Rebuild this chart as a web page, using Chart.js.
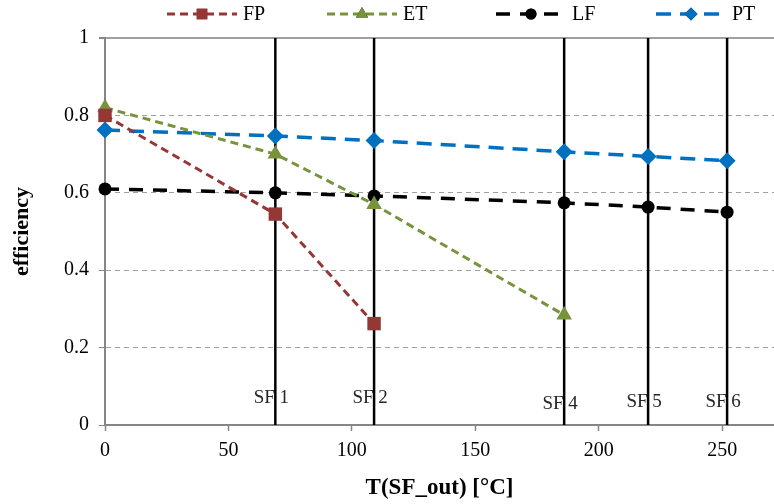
<!DOCTYPE html>
<html>
<head>
<meta charset="utf-8">
<script src="https://cdn.jsdelivr.net/npm/chart.js@4.4.1/dist/chart.umd.min.js"></script>
<style>
  html, body { margin: 0; padding: 0; background: #fff; }
  #wrap { width: 774px; height: 504px; }
</style>
</head>
<body>
<div id="wrap"><canvas id="chart" width="774" height="504"></canvas></div>
<script>
// --- data ---
const sfPositions = [69, 109, 186, 220, 252];
const sfLabels = ['SF 1', 'SF 2', 'SF 4', 'SF 5', 'SF 6'];

const fpX = [0, 69, 109];
const fpY = [0.80, 0.545, 0.262];
const etX = [0, 69, 109, 186];
const etY = [0.82, 0.70, 0.57, 0.284];
const lfX = [0, 69, 109, 186, 220, 252];
const lfY = [0.61, 0.60, 0.592, 0.574, 0.563, 0.55];
const ptX = [0, 69, 109, 186, 220, 252];
const ptY = [0.762, 0.747, 0.735, 0.706, 0.694, 0.683];

const xTicks = [0, 50, 100, 150, 200, 250];
const yTicks = [0, 0.2, 0.4, 0.6, 0.8, 1];

const FONT = '"Liberation Serif", "DejaVu Serif", serif';
const toPoints = (xs, ys) => xs.map((x, i) => ({ x: x, y: ys[i] }));

// series styling (radius = marker on plot, legR = marker in legend)
const series = [
  { label: 'FP', xs: fpX, ys: fpY, color: '#953735', dash: [8, 5], width: 3, point: 'rect', radius: 9.5, legR: 7.5 },
  { label: 'ET', xs: etX, ys: etY, color: '#77933C', dash: [8, 5], width: 3, point: 'triangle', radius: 9, legR: 7 },
  { label: 'LF', xs: lfX, ys: lfY, color: '#000000', dash: [14, 10], width: 3.5, point: 'circle', radius: 6.5, legR: 5.5 },
  { label: 'PT', xs: ptX, ys: ptY, color: '#0070C0', dash: [15, 9], width: 3.5, point: 'rectRot', radius: 8.5, legR: 6.5 }
];

const datasets = series.map(s => ({
  label: s.label,
  data: toPoints(s.xs, s.ys),
  borderColor: s.color,
  backgroundColor: s.color,
  borderWidth: s.width,
  borderDash: s.dash,
  pointStyle: s.point,
  pointRadius: s.radius,
  pointHoverRadius: s.radius,
  pointBorderWidth: 0,
  fill: false,
  tension: 0,
  clip: false,
  order: 1
}));

// vertical SF lines (two points each, through the scales)
sfPositions.forEach((x, i) => {
  datasets.push({
    label: sfLabels[i],
    data: [{ x: x, y: 0 }, { x: x, y: 1 }],
    borderColor: '#000',
    borderWidth: 2.5,
    pointRadius: 0,
    fill: false,
    order: 10
  });
});

// SF labels behind the vertical lines
const sfLabelRows = [398, 398, 404, 402, 402];
const sfLabelPlugin = {
  id: 'sfLabels',
  beforeDatasetsDraw(chart) {
    const ctx = chart.ctx;
    const xs = chart.scales.x;
    ctx.save();
    ctx.font = '19px ' + FONT;
    ctx.fillStyle = '#262626';
    ctx.textAlign = 'center';
    ctx.textBaseline = 'middle';
    sfPositions.forEach((x, i) => {
      ctx.fillText(sfLabels[i], xs.getPixelForValue(x) - 4, sfLabelRows[i]);
    });
    ctx.restore();
  }
};

// legend with line + marker samples
const legendSpots = [167, 327, 496, 656];
const legendPlugin = {
  id: 'lineLegend',
  afterDraw(chart) {
    const ctx = chart.ctx;
    const y = 14;
    ctx.save();
    series.forEach((s, i) => {
      const x0 = legendSpots[i], x1 = x0 + 70;
      ctx.strokeStyle = s.color;
      ctx.lineWidth = s.width;
      ctx.setLineDash(s.dash);
      ctx.beginPath();
      ctx.moveTo(x0, y);
      ctx.lineTo(x1, y);
      ctx.stroke();
      ctx.setLineDash([]);
      Chart.helpers.drawPoint(ctx, {
        pointStyle: s.point, radius: s.legR, borderWidth: 0, rotation: 0
      }, (x0 + x1) / 2, y);
      ctx.fillStyle = s.color;
      ctx.fill();
      ctx.fillStyle = '#000';
      ctx.font = '20px ' + FONT;
      ctx.textAlign = 'left';
      ctx.textBaseline = 'middle';
      ctx.fillText(s.label, x1 + 6, y + 1);
    });
    ctx.restore();
  }
};

new Chart(document.getElementById('chart'), {
  type: 'line',
  data: { datasets: datasets },
  plugins: [sfLabelPlugin, legendPlugin],
  options: {
    responsive: false,
    animation: false,
    layout: { autoPadding: false, padding: { top: 38, right: 0, left: 0, bottom: 0 } },
    plugins: {
      legend: { display: false },
      tooltip: { enabled: false }
    },
    scales: {
      x: {
        type: 'linear',
        min: 0,
        max: 271,
        afterFit: s => { s.height = 79; s.paddingLeft = 0; s.paddingRight = 0; },
        afterBuildTicks: s => { s.ticks = xTicks.map(v => ({ value: v })); },
        ticks: {
          font: { family: FONT, size: 20 },
          color: '#000',
          padding: 8
        },
        grid: {
          drawOnChartArea: false,
          color: '#868686',
          tickLength: 6,
          tickWidth: 1.5
        },
        border: { color: '#868686', width: 2 },
        title: {
          display: true,
          text: 'T(SF_out) [°C]',
          font: { family: FONT, size: 23, weight: 'bold' },
          color: '#000',
          padding: { top: 0, bottom: 2 }
        }
      },
      y: {
        min: 0,
        max: 1,
        afterFit: s => { s.width = 105; },
        afterBuildTicks: s => { s.ticks = yTicks.map(v => ({ value: v })); },
        ticks: {
          font: { family: FONT, size: 20 },
          color: '#000',
          padding: 10,
          callback: v => String(Math.round(v * 10) / 10)
        },
        grid: {
          color: '#a0a0a0',
          lineWidth: ctx => (ctx.tick && ctx.tick.value === 1 ? 2 : 1),
          tickLength: 6,
          tickColor: '#868686',
          tickBorderDash: []
        },
        border: {
          color: '#868686',
          width: 2,
          dash: ctx => (ctx.tick && ctx.tick.value === 1 ? [] : [5, 4])
        },
        title: {
          display: true,
          text: 'efficiency',
          font: { family: FONT, size: 22, weight: 'bold' },
          color: '#000',
          padding: { top: 9, bottom: 0 }
        }
      }
    }
  }
});
</script>
</body>
</html>
